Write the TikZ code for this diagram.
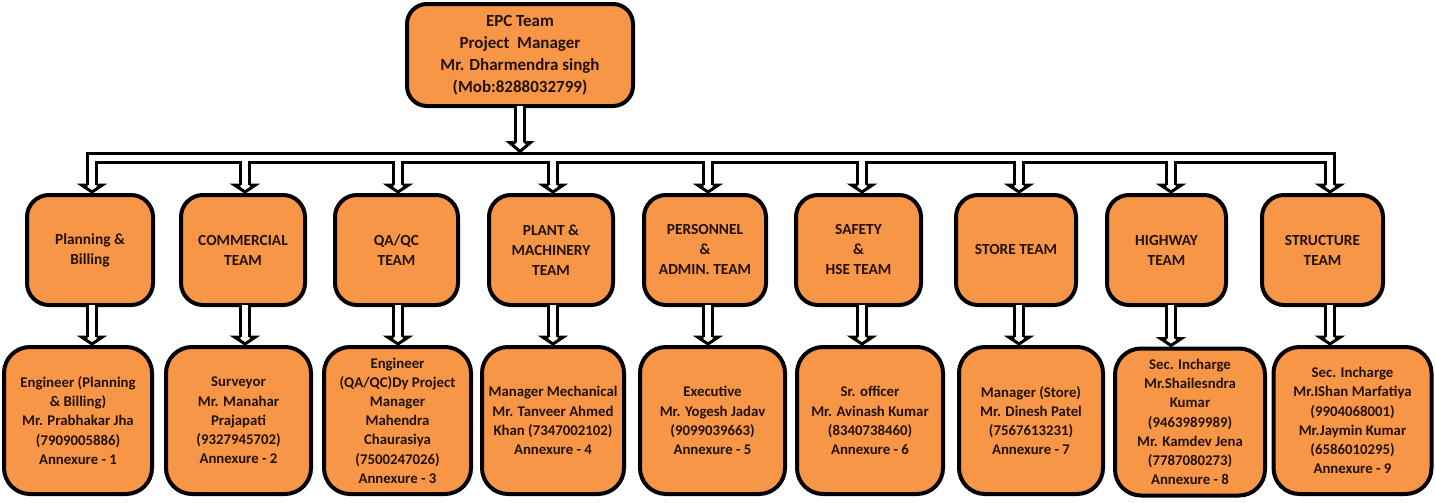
\documentclass[tikz,border=0pt]{standalone}
\usepackage{fontspec}
\setmainfont{Carlito}
\usetikzlibrary{calc}
\definecolor{boxfill}{HTML}{F79646}
\definecolor{txt}{RGB}{35,18,8}
\begin{document}
\begin{tikzpicture}[x=0.5pt,y=-0.5pt,
  box/.style={draw=black, line width=2pt, fill=boxfill, rounded corners=11pt, align=center, text=txt, inner sep=0pt, outer sep=0pt},
  topbox/.style={box, minimum width=113pt, minimum height=51pt, rounded corners=10pt, font=\bfseries\fontsize{8.5}{11}\selectfont},
  midbox/.style={box, minimum width=#1, minimum height=55pt, font=\bfseries\fontsize{7.7}{10}\selectfont},
  botbox/.style={box, minimum width=#1, minimum height=73.5pt, rounded corners=13pt, font=\bfseries\fontsize{7.4}{9.6}\selectfont},
  shaftout/.style={line width=6pt, draw=black, line join=miter},
  shaftin/.style={line width=3pt, draw=white, line join=miter},
  arrowhd/.style={draw=black, fill=white, line width=1.5pt, line join=miter}
]
\useasboundingbox (0,0) rectangle (1436,503);

% top
\node[topbox] (top) at (520,55) {EPC Team\\Project\ \ Manager\\Mr. Dharmendra singh\\(Mob:8288032799)};

% middle row
\node[midbox=63pt]   (m1) at (90,250)    {Planning \&\\Billing};
\node[midbox=62pt]   (m2) at (243,250)   {COMMERCIAL\\TEAM};
\node[midbox=61.5pt] (m3) at (396.5,250) {QA/QC\\TEAM};
\node[midbox=62pt]   (m4) at (551,250)   {PLANT \&\\MACHINERY\\TEAM};
\node[midbox=61pt]   (m5) at (705,250)   {PERSONNEL\\\&\\ADMIN. TEAM};
\node[midbox=62.5pt] (m6) at (858.5,250) {SAFETY\\\&\\HSE TEAM};
\node[midbox=60pt]   (m7) at (1016,250)  {STORE TEAM};
\node[midbox=59.5pt] (m8) at (1166.5,250){HIGHWAY\\TEAM};
\node[midbox=60.5pt] (m9) at (1322.5,250){STRUCTURE\\TEAM};

% bottom row
\node[botbox=74pt]   (b1) at (78,420.5)    {Engineer (Planning\\\& Billing)\\Mr. Prabhakar Jha\\(7909005886)\\Annexure - 1};
\node[botbox=72.5pt] (b2) at (238.5,420.5) {Surveyor\\Mr. Manahar\\Prajapati\\(9327945702)\\Annexure - 2};
\node[botbox=73.5pt] (b3) at (397.5,420.5) {Engineer\\(QA/QC)Dy Project\\Manager\\Mahendra\\Chaurasiya\\(7500247026)\\Annexure - 3};
\node[botbox=71pt]   (b4) at (553,420.5)   {Manager Mechanical\\Mr. Tanveer Ahmed\\Khan (7347002102)\\Annexure - 4};
\node[botbox=72.5pt] (b5) at (712.5,420.5) {Executive\\Mr. Yogesh Jadav\\(9099039663)\\Annexure - 5};
\node[botbox=73pt]   (b6) at (870,420.5)   {Sr. officer\\Mr. Avinash Kumar\\(8340738460)\\Annexure - 6};
\node[botbox=72pt]   (b7) at (1031,420.5)  {Manager (Store)\\Mr. Dinesh Patel\\(7567613231)\\Annexure - 7};
\node[botbox=75pt]   (b8) at (1190,422)    {Sec. Incharge\\Mr.Shailesndra\\Kumar\\(9463989989)\\Mr. Kamdev Jena\\(7787080273)\\Annexure - 8};
\node[botbox=79pt]   (b9) at (1352.5,420.5){Sec. Incharge\\Mr.IShan Marfatiya\\(9904068001)\\Mr.Jaymin Kumar\\(6586010295)\\Annexure - 9};

% bus coordinates
\foreach \i/\x in {1/92,2/245,3/398,4/553,5/708,6/862,7/1019,8/1171,9/1330}{
  \coordinate (a\i) at (\x,157.5);
}
\foreach \i in {1,...,9}{
  \coordinate (h\i) at ($(m\i.north -| a\i)+(0,-10)$);
  \coordinate (t\i) at ($(m\i.north -| a\i)+(0,-3)$);
  \coordinate (s\i) at (m\i.south -| a\i);
  \coordinate (hb\i) at ($(b\i.north -| a\i)+(0,-10)$);
  \coordinate (tb\i) at ($(b\i.north -| a\i)+(0,-3)$);
}
\coordinate (th) at ($(top.south |- a1)+(0,-15)$);
\coordinate (tt) at ($(top.south |- a1)+(0,-6)$);

% black outlines
\draw[shaftout] (h1) -- (a1) -- (a9) -- (h9);
\foreach \i in {2,...,8}{ \draw[shaftout] (a\i) -- (h\i); }
\foreach \i in {1,...,9}{ \draw[shaftout] (s\i) -- (hb\i); }
\draw[shaftout] (top.south) -- (th);
% white interiors
\draw[shaftin] (h1) -- (a1) -- (a9) -- (h9);
\foreach \i in {2,...,8}{ \draw[shaftin] (a\i) -- (h\i); }
\foreach \i in {1,...,9}{ \draw[shaftin] (s\i) -- (hb\i); }
\draw[shaftin] (top.south) -- (th);
% heads
\foreach \i in {1,...,9}{
  \draw[arrowhd] ($(h\i)+(-4.5,0)$) -- ($(h\i)+(-10.5,0)$) -- (t\i) -- ($(h\i)+(10.5,0)$) -- ($(h\i)+(4.5,0)$);
  \draw[arrowhd] ($(hb\i)+(-4.5,0)$) -- ($(hb\i)+(-10.5,0)$) -- (tb\i) -- ($(hb\i)+(10.5,0)$) -- ($(hb\i)+(4.5,0)$);
}
\draw[arrowhd] ($(th)+(-4.5,0)$) -- ($(th)+(-10.5,0)$) -- (tt) -- ($(th)+(10.5,0)$) -- ($(th)+(4.5,0)$);
\end{tikzpicture}
\end{document}
